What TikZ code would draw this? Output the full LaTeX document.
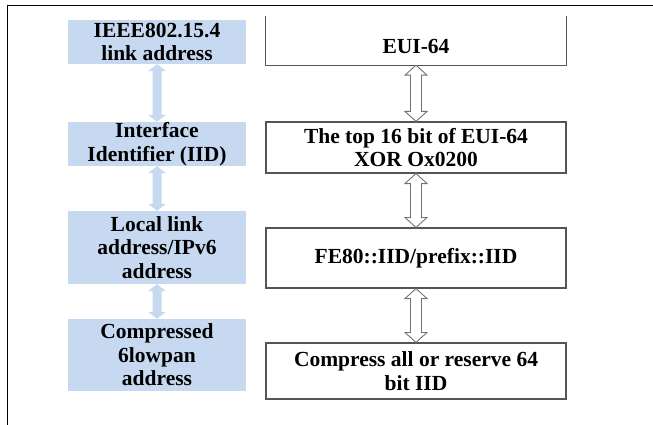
\documentclass[tikz,border=0pt]{standalone}
\usepackage{fontspec}
\setmainfont{Liberation Serif}
\usetikzlibrary{calc}
\definecolor{paleblue}{RGB}{198,217,241}
\definecolor{boxgray}{RGB}{85,85,85}
\definecolor{arrowgray}{RGB}{115,115,115}
% vertical two-headed block arrow from the bottom of #2 to the top of #3
% #1 style, #4 half shaft width, #5 half head width, #6 head length
\newcommand\blockarrow[6]{%
  \path[#1] let \p1=(#2.south), \p2=(#3.north) in
    (\x1,\y1) -- (\x1+#5pt,\y1-#6pt) -- (\x1+#4pt,\y1-#6pt)
    -- (\x1+#4pt,\y2+#6pt) -- (\x1+#5pt,\y2+#6pt) -- (\x1,\y2)
    -- (\x1-#5pt,\y2+#6pt) -- (\x1-#4pt,\y2+#6pt)
    -- (\x1-#4pt,\y1-#6pt) -- (\x1-#5pt,\y1-#6pt) -- cycle;}
\begin{document}
\begin{tikzpicture}[x=1pt,y=-1pt,
  font=\bfseries\fontsize{21.5}{23.5}\selectfont,
  bluebox/.style={fill=paleblue, minimum width=178, minimum height=#1,
    inner sep=0pt, align=center},
  whitebox/.style={draw=boxgray, line width=1.1pt, fill=white,
    minimum width=300, minimum height=#1, inner sep=0pt, align=center},
  bluearrow/.style={fill=paleblue},
  openarrow/.style={draw=arrowgray, line width=0.9pt, fill=white, line join=miter}]
  \clip (0,0) rectangle (653,425);
  \fill[white] (0,0) rectangle (653,425);
  % outer frame, running past the right and bottom edges
  \draw[line width=1.8pt] (7.5,5.5) rectangle (700,480);

  % left column
  \node[bluebox=44] (ieee) at (157,42) {IEEE802.15.4\\link address};
  \node[bluebox=44] (iid) at (157,144) {Interface\\Identifier (IID)};
  \node[bluebox=73] (local) at (157,247.5) {Local link\\address/IPv6\\address};
  \node[bluebox=72] (comp) at (157,355) {Compressed\\6lowpan\\address};

  % right column
  \node[minimum width=300, minimum height=49, inner sep=0pt] (eui) at (416,40.5) {};
  \draw[boxgray, line width=1.1pt] (eui.north west) -- (eui.south west)
    -- (eui.south east) -- (eui.north east);
  \node (euitext) at ($(eui.center)+(0,5.5)$) {EUI-64};
  \node[whitebox=51] (xor) at (416,147.5) {The top 16 bit of EUI-64\\XOR Ox0200};
  \node[whitebox=60] (fe) at (416,258) {FE80::IID/prefix::IID};
  \node[whitebox=56] (keep) at (416,371) {Compress all or reserve 64\\bit IID};

  % connectors
  \blockarrow{bluearrow}{ieee}{iid}{4.5}{9}{7}
  \blockarrow{bluearrow}{iid}{local}{4.5}{9}{7}
  \blockarrow{bluearrow}{local}{comp}{4.5}{9}{7}
  \blockarrow{openarrow}{eui}{xor}{5.5}{11}{10}
  \blockarrow{openarrow}{xor}{fe}{5.5}{11}{10}
  \blockarrow{openarrow}{fe}{keep}{5.5}{11}{10}
\end{tikzpicture}
\end{document}
